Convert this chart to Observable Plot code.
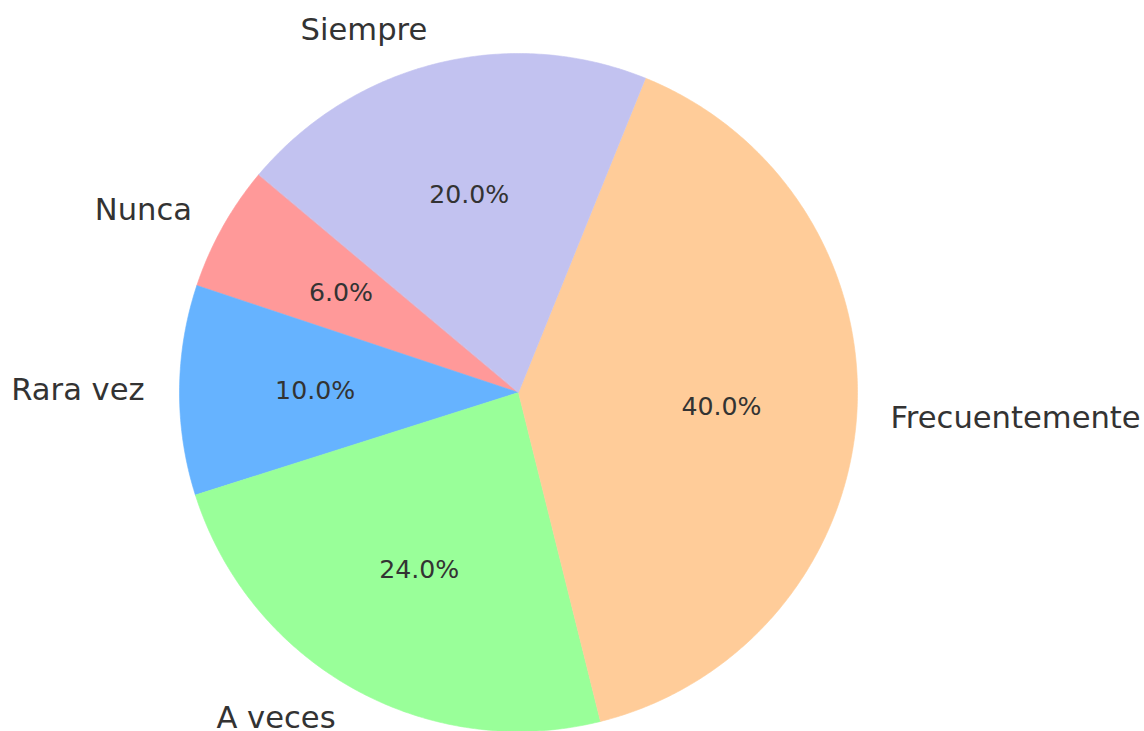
<!DOCTYPE html>
<html>
<head>
<meta charset="utf-8">
<script src="https://cdn.jsdelivr.net/npm/d3@7"></script>
<script src="https://cdn.jsdelivr.net/npm/@observablehq/plot@0.6"></script>
<style>
  html, body { margin: 0; padding: 0; background: #fff; }
  #chart { width: 1144px; height: 731px; }
</style>
</head>
<body>
<div id="chart"></div>
<script>
// Data
const categories = ["Nunca", "Rara vez", "A veces", "Frecuentemente", "Siempre"];
const values = [6, 10, 24, 40, 20];
const colors = ["#ff9999", "#66b3ff", "#99ff99", "#ffcc99", "#c2c2f0"];
const startAngle = 140; // degrees, counterclockwise like matplotlib

const total = d3.sum(values);
const toRad = Math.PI / 180;

// Build wedge polygons and label anchors
const wedgePts = [];
const labelRows = [];
let a0 = startAngle;
categories.forEach((cat, i) => {
  const sweep = values[i] / total * 360;
  const a1 = a0 + sweep;
  wedgePts.push({cat, x: 0, y: 0});
  const n = Math.max(4, Math.ceil(sweep * 2));
  for (let k = 0; k <= n; k++) {
    const a = (a0 + sweep * k / n) * toRad;
    wedgePts.push({cat, x: Math.cos(a), y: Math.sin(a)});
  }
  const mid = (a0 + a1) / 2 * toRad;
  labelRows.push({
    cat,
    pct: (values[i] / total * 100).toFixed(1) + "%",
    lx: 1.1 * Math.cos(mid), ly: 1.1 * Math.sin(mid),
    px: 0.6 * Math.cos(mid), py: 0.6 * Math.sin(mid)
  });
  a0 = a1;
});

const W = 1144, H = 731, cx = 518, cy = 392, R = 339;

const chart = Plot.plot({
  width: W,
  height: H,
  margin: 0,
  style: {fontFamily: "DejaVu Sans, sans-serif", background: "#fff"},
  x: {domain: [-cx / R, (W - cx) / R], axis: null},
  y: {domain: [-(H - cy) / R, cy / R], axis: null},
  color: {domain: categories, range: colors},
  marks: [
    Plot.line(wedgePts, {x: "x", y: "y", z: "cat", fill: "cat", stroke: "cat", strokeWidth: 0.6, curve: "linear-closed"}),
    Plot.text(labelRows.filter(d => d.lx < 0), {x: "lx", y: "ly", text: "cat", textAnchor: "end", fontSize: 30.6, fill: "#333333", dx: -1}),
    Plot.text(labelRows.filter(d => d.lx >= 0), {x: "lx", y: "ly", text: "cat", textAnchor: "start", fontSize: 30.6, fill: "#333333"}),
    Plot.text(labelRows, {x: "px", y: "py", text: "pct", textAnchor: "middle", fontSize: 25.2, fill: "#333333"})
  ]
});
document.getElementById("chart").appendChild(chart);
</script>
</body>
</html>
